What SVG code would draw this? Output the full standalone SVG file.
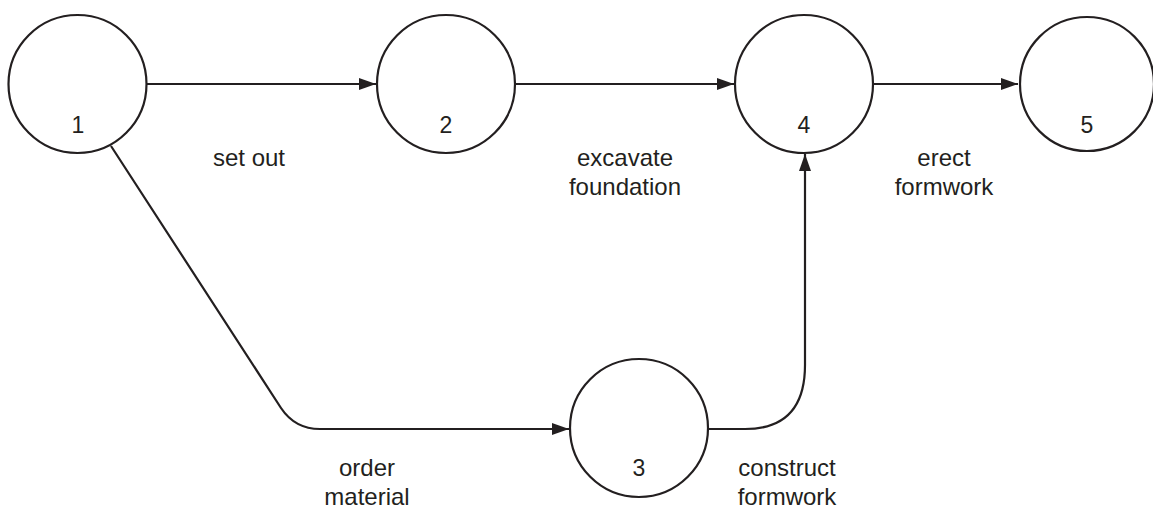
<svg xmlns="http://www.w3.org/2000/svg" width="1153" height="510" viewBox="0 0 1153 510">
<style>
.node circle{fill:#fff;stroke:#231f20;stroke-width:2.2}
.num{font-family:"Liberation Sans",Arial,sans-serif;font-size:23px;fill:#231f20;text-anchor:middle}
.lbl{font-family:"Liberation Sans",Arial,sans-serif;font-size:24px;fill:#231f20;text-anchor:middle}
.edge{fill:none;stroke:#231f20;stroke-width:2.2}
</style>
<defs>
<marker id="arr" markerUnits="userSpaceOnUse" markerWidth="18" markerHeight="14" refX="17" refY="7" orient="auto">
<path d="M0,1 L17,7 L0,13 Z" fill="#231f20"/>
</marker>
</defs>
<rect width="1153" height="510" fill="#fff"/>
<g id="connectors">
<path class="edge" d="M147,84 L376,84" marker-end="url(#arr)"/>
<path class="edge" d="M515,84 L734,84" marker-end="url(#arr)"/>
<path class="edge" d="M873,84 L1018,84" marker-end="url(#arr)"/>
<path class="edge" d="M111,146 L281,408 Q295,429 320,429 L569,429" marker-end="url(#arr)"/>
<path class="edge" d="M708,429 L745,429 Q805,429 805,365 L805,154" marker-end="url(#arr)"/>
</g>
<g id="edge-labels">
<text class="lbl" x="249" y="166">set out</text>
<text class="lbl" x="625" y="166">excavate</text>
<text class="lbl" x="625" y="195">foundation</text>
<text class="lbl" x="944" y="166">erect</text>
<text class="lbl" x="944" y="195">formwork</text>
<text class="lbl" x="367" y="476">order</text>
<text class="lbl" x="367" y="505">material</text>
<text class="lbl" x="787" y="476">construct</text>
<text class="lbl" x="787" y="505">formwork</text>
</g>
<g id="node1" class="node"><circle cx="77.5" cy="84" r="69"/><text class="num" x="78" y="133">1</text></g>
<g id="node2" class="node"><circle cx="446" cy="84" r="69"/><text class="num" x="446" y="133">2</text></g>
<g id="node3" class="node"><circle cx="639" cy="428" r="69"/><text class="num" x="639" y="476">3</text></g>
<g id="node4" class="node"><circle cx="804" cy="84" r="69"/><text class="num" x="804" y="133">4</text></g>
<g id="node5" class="node"><circle cx="1087" cy="84" r="67"/><text class="num" x="1087" y="133">5</text></g>
</svg>
